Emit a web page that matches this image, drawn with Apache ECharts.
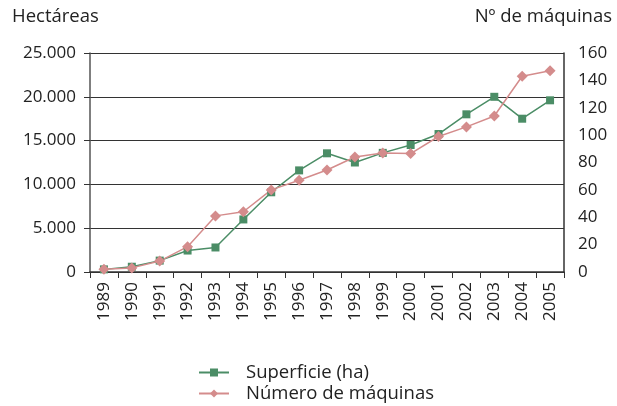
<!DOCTYPE html>
<html>
<head>
<meta charset="utf-8">
<script src="https://cdn.jsdelivr.net/npm/echarts@6/dist/echarts.min.js"></script>
<style>
  html, body { margin: 0; padding: 0; background: #fff; }
  #chart { width: 617px; height: 406px; }
</style>
</head>
<body>
<div id="chart"></div>
<script>
// datos
const years = ["1989", "1990", "1991", "1992", "1993", "1994", "1995", "1996", "1997",
  "1998", "1999", "2000", "2001", "2002", "2003", "2004", "2005"];
const superficie = [300, 600, 1300, 2450, 2800, 6000, 9100, 11600, 13550,
  12500, 13600, 14500, 15750, 18000, 20000, 17500, 19600];
const maquinas = [2, 3, 8, 18.5, 41, 44, 60, 67, 74.5,
  84, 87, 86.5, 99, 106, 114, 143, 147];

const FONT = "Open Sans";
const green = "#4b8d66";
const pink = "#d48c8c";

let myChart = echarts.init(document.getElementById("chart"));
myChart.setOption({
  animation: false,
  textStyle: { fontFamily: FONT, color: "#222" },
  graphic: [
    { type: "text", left: 12, top: 7, style: { text: "Hectáreas", font: "18.5px " + FONT, fill: "#222" } },
    { type: "text", right: 5, top: 7, style: { text: "Nº de máquinas", font: "18.5px " + FONT, fill: "#222" } }
  ],
  legend: {
    orient: "vertical",
    align: "left",
    left: 198,
    top: 362,
    height: 44,
    padding: 0,
    itemWidth: 30,
    itemHeight: 10,
    itemGap: 0,
    textStyle: { fontFamily: FONT, fontSize: 18.5, lineHeight: 21, color: "#222", width: 200, align: "left", padding: [0, 0, 0, 12] },
    data: ["Superficie (ha)", "Número de máquinas"]
  },
  grid: { left: 90, right: 53, top: 53, bottom: 134 },
  xAxis: {
    type: "category",
    data: years,
    boundaryGap: true,
    axisLine: { lineStyle: { color: "#333", width: 1.5 } },
    axisTick: { show: true, length: 6, lineStyle: { color: "#333" } },
    axisLabel: { rotate: 90, fontSize: 17, color: "#222", fontFamily: FONT, margin: 10, interval: 0 }
  },
  yAxis: [
    {
      type: "value", min: 0, max: 25000, interval: 5000,
      axisLine: { show: true, lineStyle: { color: "#555", width: 1.5 } },
      axisTick: { show: true, length: 6, lineStyle: { color: "#333" } },
      splitLine: { lineStyle: { color: "#333", width: 1 } },
      axisLabel: {
        fontSize: 17, color: "#222", fontFamily: FONT, margin: 14,
        formatter: v => String(v).replace(/\B(?=(\d{3})+(?!\d))/g, ".")
      }
    },
    {
      type: "value", min: 0, max: 160, interval: 20,
      axisLine: { show: true, lineStyle: { color: "#333", width: 1.5 } },
      axisTick: { show: false },
      splitLine: { show: false },
      axisLabel: { fontSize: 17, color: "#222", fontFamily: FONT, margin: 14 }
    }
  ],
  series: [
    {
      name: "Superficie (ha)",
      type: "line",
      yAxisIndex: 0,
      data: superficie,
      symbol: "rect",
      symbolSize: 8,
      itemStyle: { color: green },
      lineStyle: { color: green, width: 1.5 }
    },
    {
      name: "Número de máquinas",
      type: "line",
      yAxisIndex: 1,
      data: maquinas,
      symbol: "diamond",
      symbolSize: 11,
      itemStyle: { color: pink },
      lineStyle: { color: pink, width: 1.5 }
    }
  ]
});
</script>
</body>
</html>
